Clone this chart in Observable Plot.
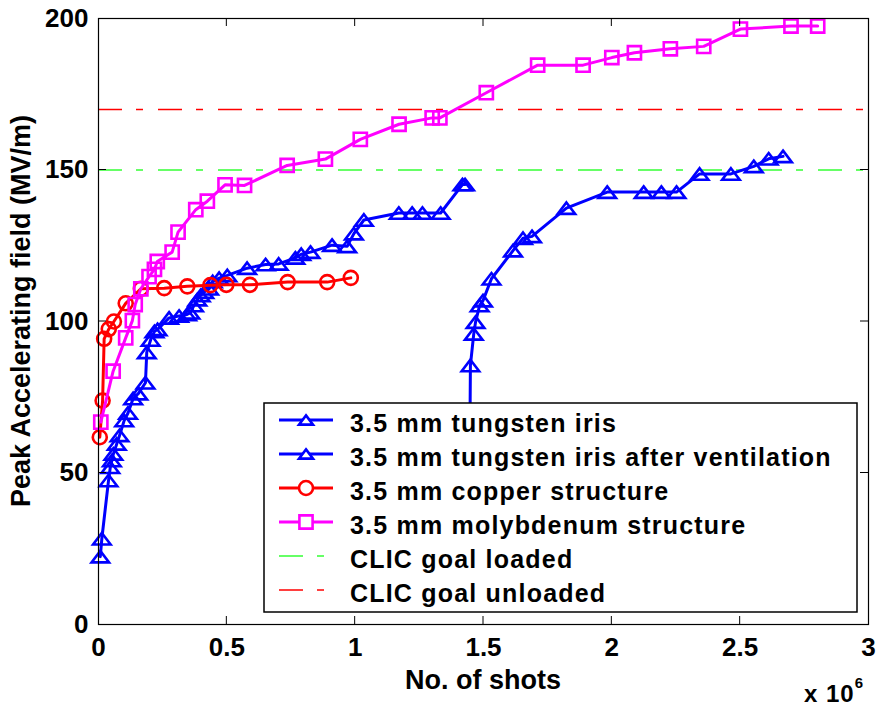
<!DOCTYPE html>
<html><head><meta charset="utf-8">
<script src="https://cdn.jsdelivr.net/npm/d3@7"></script>
<script src="https://cdn.jsdelivr.net/npm/@observablehq/plot@0.6"></script>
<style>body{margin:0;background:#fff}</style>
</head><body><div id="chart"></div>
<script>
// ---- data (x in units of 10^6 shots, y in MV/m) ----
const xTicks = [0, 0.5, 1, 1.5, 2, 2.5, 3];
const yTicks = [0, 50, 100, 150, 200];
const xTickLabels = ["0", "0.5", "1", "1.5", "2", "2.5", "3"];
const seriesNames = [
  "3.5 mm tungsten iris",
  "3.5 mm tungsten iris after ventilation",
  "3.5 mm copper structure",
  "3.5 mm molybdenum structure",
  "CLIC goal loaded",
  "CLIC goal unloaded"
];
const tungstenX = [0.007,0.013,0.039,0.046,0.052,0.058,0.071,0.082,0.100,0.115,0.135,0.155,0.183,0.188,0.203,0.218,0.230,0.275,0.314,0.345,0.358,0.372,0.385,0.398,0.412,0.431,0.445,0.470,0.502,0.579,0.651,0.702,0.767,0.790,0.826,0.910,0.969,0.995,1.034,1.170,1.222,1.262,1.333,1.418,1.428];
const tungstenY = [22.4,28.3,47.5,51.9,54.1,56.3,59.6,62.4,67.3,69.8,74.6,76.2,79.8,89.8,93.9,96.7,97.4,101.2,101.8,102.3,102.9,105.3,107.2,108.6,109.7,110.8,113.2,114.3,115.2,117.6,118.8,119.0,121.0,122.2,122.9,125.2,124.8,129.0,133.5,135.8,135.8,135.8,135.8,145.2,145.2];
const ventX = [1.447,1.449,1.462,1.469,1.485,1.498,1.531,1.615,1.654,1.689,1.823,1.982,2.124,2.193,2.252,2.342,2.464,2.553,2.611,2.667];
const ventY = [62,85.5,95.9,99.8,105.3,106.9,114.1,123.4,127.5,128.1,137.4,142.7,142.7,142.7,142.7,148.7,148.7,151.2,153.7,154.5];
const copperX = [0.005,0.016,0.022,0.040,0.060,0.106,0.165,0.256,0.346,0.436,0.498,0.590,0.737,0.891,0.983];
const copperY = [61.8,73.9,94.3,97.5,100.0,106.0,110.8,111.0,111.6,112.0,112.1,112.1,113.0,113.0,114.4];
const molyX = [0.009,0.057,0.106,0.132,0.143,0.165,0.197,0.218,0.229,0.287,0.310,0.379,0.424,0.493,0.569,0.735,0.884,1.020,1.171,1.300,1.330,1.511,1.711,1.888,2.000,2.088,2.228,2.358,2.501,2.698,2.802];
const molyY = [66.8,83.6,94.6,100.3,105.6,110.8,114.8,117.2,119.8,122.9,129.5,136.9,139.7,145.1,144.9,151.5,153.6,160.1,165.1,167.2,167.2,175.5,184.6,184.6,187.1,188.7,190.0,190.8,196.5,197.5,197.5];
const clicLoaded = 150;
const clicUnloaded = 170;

// ---- styles ----
const FONT = "'Liberation Sans', Arial, Helvetica, sans-serif";
const BLUE = "#0000ff", RED = "#ff0000", MAGENTA = "#ff00ff", GREEN = "#66ff66";
const DASH = "24,14,7,15";
const LW = 3, MW = 2.6;
const triangle = {
  draw(ctx, size) {
    const r = Math.sqrt(size / Math.PI);
    ctx.moveTo(0, -0.82 * r);
    ctx.lineTo(1.25 * r, 0.82 * r);
    ctx.lineTo(-1.25 * r, 0.82 * r);
    ctx.closePath();
  }
};
const square = {
  draw(ctx, size) {
    const h = 0.89 * Math.sqrt(size / Math.PI);
    ctx.rect(-h, -h, 2 * h, 2 * h);
  }
};
const rows = (xs, ys) => xs.map((x, i) => ({x, y: ys[i]}));
const series = [
  {name: seriesNames[0], data: rows(tungstenX, tungstenY), color: BLUE, symbol: triangle, r: 7},
  {name: seriesNames[1], data: rows(ventX, ventY), color: BLUE, symbol: triangle, r: 7},
  {name: seriesNames[2], data: rows(copperX, copperY), color: RED, symbol: "circle", r: 7},
  {name: seriesNames[3], data: rows(molyX, molyY), color: MAGENTA, symbol: square, r: 7.4}
];

function decorations(index, scales, values, dims) {
  const {width, height, marginLeft, marginRight, marginTop, marginBottom} = dims;
  const L = marginLeft, R = width - marginRight, T = marginTop, B = height - marginBottom;
  const g = d3.create("svg:g").attr("font-family", FONT).attr("font-weight", "bold")
    .attr("text-anchor", "start").attr("fill", "black");
  const tl = 8;
  for (const t of xTicks) {
    const px = scales.x(t);
    if (px <= L + 1 || px >= R - 1) continue;
    g.append("line").attr("x1", px).attr("x2", px).attr("y1", B).attr("y2", B - tl).attr("stroke", "black");
    g.append("line").attr("x1", px).attr("x2", px).attr("y1", T).attr("y2", T + tl).attr("stroke", "black");
  }
  for (const t of yTicks) {
    const py = scales.y(t);
    if (py <= T + 1 || py >= B - 1) continue;
    g.append("line").attr("y1", py).attr("y2", py).attr("x1", L).attr("x2", L + tl).attr("stroke", "black");
    g.append("line").attr("y1", py).attr("y2", py).attr("x1", R).attr("x2", R - tl).attr("stroke", "black");
  }
  // axis titles
  g.append("text").attr("x", (L + R) / 2).attr("y", 689).attr("text-anchor", "middle")
    .attr("font-size", 27).text("No. of shots");
  g.append("text").attr("transform", `translate(21,${(T + B) / 2 - 10}) rotate(-90)`)
    .attr("text-anchor", "middle").attr("dy", "0.35em").attr("font-size", 27)
    .text("Peak Accelerating field (MV/m)");
  const ex = g.append("text").attr("x", 804).attr("y", 702).attr("font-size", 24).attr("letter-spacing", 1);
  ex.append("tspan").text("x 10");
  ex.append("tspan").attr("dy", -14).attr("font-size", 15).attr("letter-spacing", 0).text("6");
  // legend
  const lx = 264, ly = 403, lw = 593, lh = 209;
  g.append("rect").attr("x", lx).attr("y", ly).attr("width", lw).attr("height", lh)
    .attr("fill", "white").attr("stroke", "black").attr("stroke-width", 1.5);
  const entries = [
    ...series.map(s => ({name: s.name, color: s.color, symbol: s.symbol, r: s.r, dash: null, w: LW})),
    {name: seriesNames[4], color: GREEN, symbol: null, dash: DASH, w: 2},
    {name: seriesNames[5], color: RED, symbol: null, dash: DASH, w: 1.5}
  ];
  entries.forEach((e, i) => {
    const cy = 420 + i * 34;
    g.append("line").attr("x1", 279).attr("x2", 333).attr("y1", cy).attr("y2", cy)
      .attr("stroke", e.color).attr("stroke-width", e.w).attr("stroke-dasharray", e.dash);
    if (e.symbol) {
      const type = e.symbol === "circle" ? d3.symbolCircle : e.symbol;
      const rr = e.symbol === triangle ? 5.6 : e.r;
      g.append("path").attr("transform", `translate(306,${cy})`)
        .attr("d", d3.symbol().type(type).size(Math.PI * rr * rr)())
        .attr("fill", "white").attr("stroke", e.color).attr("stroke-width", MW);
    }
    g.append("text").attr("x", 350).attr("y", cy + 12).attr("font-size", 25)
      .attr("letter-spacing", 1.2).text(e.name);
  });
  return g.node();
}

const marks = [
  Plot.ruleY([clicLoaded], {stroke: GREEN, strokeWidth: 2, strokeDasharray: DASH}),
  Plot.ruleY([clicUnloaded], {stroke: RED, strokeWidth: 1.5, strokeDasharray: DASH}),
];
for (const s of series) {
  marks.push(Plot.line(s.data, {x: "x", y: "y", stroke: s.color, strokeWidth: LW}));
  marks.push(Plot.dot(s.data, {x: "x", y: "y", stroke: s.color, fill: "none", strokeWidth: MW, symbol: s.symbol, r: s.r}));
}
marks.push(
  Plot.axisX({ticks: xTicks, tickSize: 0, tickPadding: 13, tickFormat: (d) => xTickLabels[xTicks.indexOf(d)], fontSize: 26, fontWeight: "bold", label: null}),
  Plot.axisY({ticks: yTicks, tickSize: 0, tickPadding: 10, fontSize: 26, fontWeight: "bold", label: null}),
  Plot.frame({stroke: "black", strokeWidth: 1.2}),
  decorations
);

const chart = Plot.plot({
  width: 876,
  height: 707,
  marginLeft: 98,
  marginRight: 8,
  marginTop: 18,
  marginBottom: 83,
  style: {fontFamily: FONT, fontWeight: "bold", color: "black", background: "white", overflow: "visible"},
  x: {domain: [0, 3]},
  y: {domain: [0, 200]},
  marks
});
document.getElementById("chart").appendChild(chart);
</script>
</body></html>
